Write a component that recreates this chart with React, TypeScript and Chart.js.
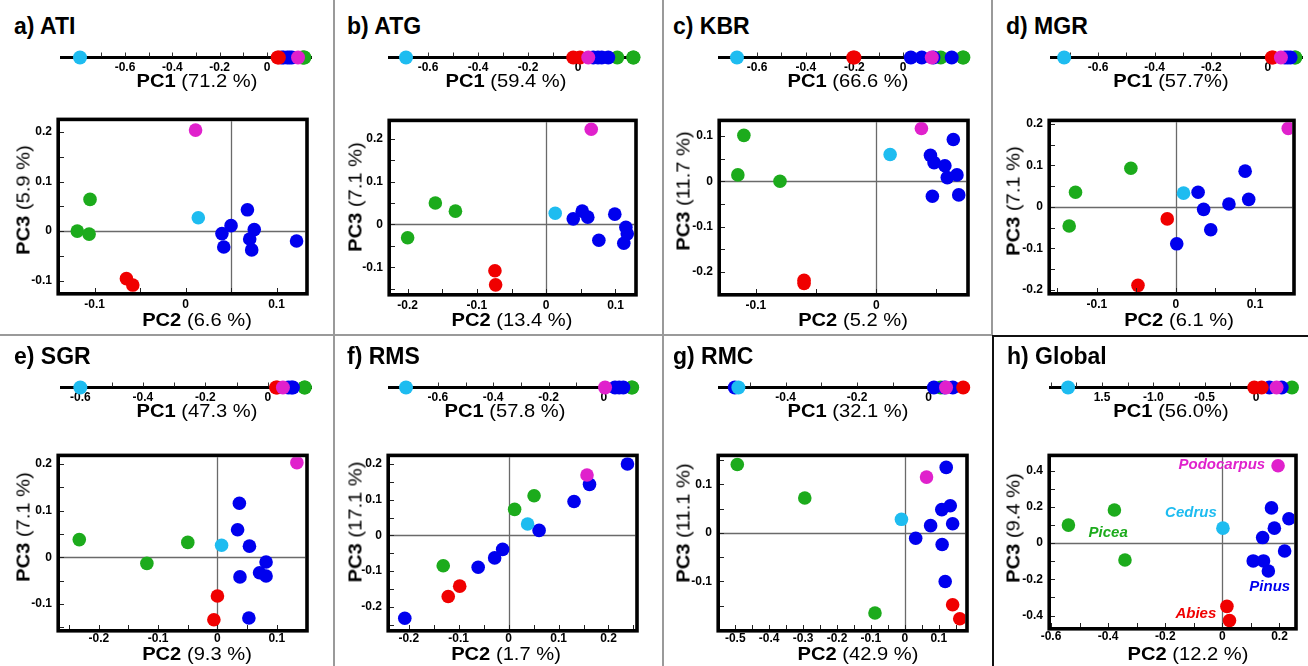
import React, { useEffect, useRef } from "react";
import { Chart, registerables } from "chart.js";

Chart.register(...registerables);

const FONT = '"Liberation Sans", Arial, Helvetica, sans-serif';

// ---------- groups ----------
const GROUP_NAMES = ["Picea", "Pinus", "Abies", "Podocarpus", "Cedrus"];
const GROUP_COLORS = ["#1cab1c", "#0000ee", "#f00000", "#e021cc", "#1ebcf0"];

// ---------- texts ----------
const PANEL_TITLES = ["a) ATI", "b) ATG", "c) KBR", "d) MGR", "e) SGR", "f) RMS", "g) RMC", "h) Global"];
const PC1_PCT = ["(71.2 %)", "(59.4 %)", "(66.6 %)", "(57.7%)", "(47.3 %)", "(57.8 %)", "(32.1 %)", "(56.0%)"];
const PC2_PCT = ["(6.6 %)", "(13.4 %)", "(5.2 %)", "(6.1 %)", "(9.3 %)", "(1.7 %)", "(42.9 %)", "(12.2 %)"];
const PC3_PCT = ["(5.9 %)", "(7.1 %)", "(11.7 %)", "(7.1 %)", "(7.1 %)", "(17.1 %)", "(11.1 %)", "(9.4 %)"];

// ---------- PC1 scores ----------
type P1 = [string, number];
type P23 = [string, number, number];

const ATI_PC1: P1[] = [["Cedrus", -0.79], ["Abies", 0.045], ["Abies", 0.05], ["Pinus", 0.062], ["Pinus", 0.07], ["Pinus", 0.085], ["Pinus", 0.095], ["Pinus", 0.105], ["Podocarpus", 0.131], ["Picea", 0.15], ["Picea", 0.155], ["Picea", 0.158]];
const ATG_PC1: P1[] = [["Cedrus", -0.688], ["Abies", -0.019], ["Abies", 0.008], ["Podocarpus", 0.041], ["Pinus", 0.061], ["Pinus", 0.08], ["Pinus", 0.095], ["Pinus", 0.121], ["Picea", 0.157], ["Picea", 0.221], ["Picea", 0.222]];
const KBR_PC1: P1[] = [["Cedrus", -0.683], ["Abies", -0.205], ["Abies", -0.2], ["Pinus", 0.032], ["Pinus", 0.077], ["Pinus", 0.125], ["Podocarpus", 0.118], ["Picea", 0.155], ["Pinus", 0.2], ["Picea", 0.246], ["Picea", 0.248]];
const MGR_PC1: P1[] = [["Cedrus", -0.72], ["Abies", 0.014], ["Abies", 0.018], ["Podocarpus", 0.046], ["Pinus", 0.06], ["Pinus", 0.07], ["Pinus", 0.08], ["Picea", 0.095], ["Picea", 0.097]];
const SGR_PC1: P1[] = [["Cedrus", -0.6], ["Abies", 0.026], ["Abies", 0.03], ["Podocarpus", 0.048], ["Pinus", 0.065], ["Pinus", 0.075], ["Pinus", 0.08], ["Picea", 0.117], ["Picea", 0.118]];
const RMS_PC1: P1[] = [["Cedrus", -0.715], ["Podocarpus", 0.004], ["Pinus", 0.04], ["Pinus", 0.055], ["Pinus", 0.07], ["Picea", 0.1], ["Picea", 0.102]];
const RMC_PC1: P1[] = [["Pinus", -0.542], ["Cedrus", -0.532], ["Pinus", 0.015], ["Picea", 0.034], ["Pinus", 0.045], ["Podocarpus", 0.049], ["Pinus", 0.068], ["Abies", 0.097]];
const GLOBAL_PC1: P1[] = [["Cedrus", -1.83], ["Abies", -0.017], ["Abies", 0.055], ["Pinus", 0.13], ["Pinus", 0.25], ["Podocarpus", 0.2], ["Picea", 0.35]];

// ---------- PC2 / PC3 scores ----------
const ATI_PC23: P23[] = [
  ["Podocarpus", 0.011, 0.204], ["Picea", -0.105, 0.064], ["Picea", -0.119, 0.0], ["Picea", -0.106, -0.006],
  ["Cedrus", 0.014, 0.027], ["Abies", -0.065, -0.096], ["Abies", -0.058, -0.109],
  ["Pinus", 0.068, 0.043], ["Pinus", 0.05, 0.011], ["Pinus", 0.04, -0.005], ["Pinus", 0.0755, 0.003],
  ["Pinus", 0.042, -0.032], ["Pinus", 0.0705, -0.016], ["Pinus", 0.0727, -0.038], ["Pinus", 0.122, -0.02],
];
const ATG_PC23: P23[] = [
  ["Podocarpus", 0.065, 0.222], ["Picea", -0.16, 0.05], ["Picea", -0.131, 0.031], ["Picea", -0.2, -0.031],
  ["Abies", -0.074, -0.108], ["Abies", -0.073, -0.141], ["Cedrus", 0.013, 0.026],
  ["Pinus", 0.039, 0.013], ["Pinus", 0.052, 0.031], ["Pinus", 0.06, 0.017], ["Pinus", 0.099, 0.024],
  ["Pinus", 0.115, -0.007], ["Pinus", 0.117, -0.022], ["Pinus", 0.112, -0.044], ["Pinus", 0.076, -0.037],
];
const KBR_PC23: P23[] = [
  ["Picea", -0.11, 0.101], ["Picea", -0.115, 0.014], ["Picea", -0.08, 0.0],
  ["Abies", -0.06, -0.218], ["Abies", -0.06, -0.225], ["Cedrus", 0.0115, 0.059], ["Podocarpus", 0.0375, 0.116],
  ["Pinus", 0.064, 0.092], ["Pinus", 0.045, 0.057], ["Pinus", 0.048, 0.041], ["Pinus", 0.057, 0.034],
  ["Pinus", 0.059, 0.008], ["Pinus", 0.067, 0.014], ["Pinus", 0.0466, -0.033], ["Pinus", 0.0685, -0.03],
];
const MGR_PC23: P23[] = [
  ["Podocarpus", 0.142, 0.189], ["Picea", -0.057, 0.093], ["Picea", -0.127, 0.035], ["Picea", -0.135, -0.046],
  ["Cedrus", 0.0096, 0.033], ["Abies", -0.011, -0.029], ["Abies", -0.048, -0.189],
  ["Pinus", 0.001, -0.089], ["Pinus", 0.028, 0.035], ["Pinus", 0.035, -0.006], ["Pinus", 0.044, -0.055],
  ["Pinus", 0.067, 0.007], ["Pinus", 0.0875, 0.086], ["Pinus", 0.092, 0.018],
];
const SGR_PC23: P23[] = [
  ["Podocarpus", 0.134, 0.203], ["Pinus", 0.037, 0.116], ["Pinus", 0.034, 0.059], ["Pinus", 0.054, 0.024],
  ["Pinus", 0.082, -0.01], ["Pinus", 0.071, -0.033], ["Pinus", 0.082, -0.04], ["Pinus", 0.038, -0.042],
  ["Pinus", 0.053, -0.13], ["Cedrus", 0.007, 0.026], ["Picea", -0.233, 0.038], ["Picea", -0.05, 0.032],
  ["Picea", -0.119, -0.013], ["Abies", 0.0, -0.083], ["Abies", -0.006, -0.134],
];
const RMS_PC23: P23[] = [
  ["Pinus", 0.238, 0.2], ["Pinus", 0.162, 0.143], ["Pinus", 0.131, 0.095], ["Pinus", 0.061, 0.014],
  ["Pinus", -0.012, -0.039], ["Pinus", -0.028, -0.063], ["Pinus", -0.061, -0.089], ["Pinus", -0.208, -0.232],
  ["Podocarpus", 0.157, 0.169], ["Picea", 0.051, 0.111], ["Picea", 0.012, 0.073], ["Picea", -0.131, -0.085],
  ["Cedrus", 0.038, 0.032], ["Abies", -0.098, -0.142], ["Abies", -0.121, -0.171],
];
const RMC_PC23: P23[] = [
  ["Picea", -0.494, 0.141], ["Picea", -0.295, 0.072], ["Picea", -0.088, -0.165],
  ["Cedrus", -0.01, 0.028], ["Podocarpus", 0.064, 0.115],
  ["Pinus", 0.122, 0.135], ["Pinus", 0.109, 0.048], ["Pinus", 0.134, 0.056], ["Pinus", 0.076, 0.015],
  ["Pinus", 0.141, 0.019], ["Pinus", 0.032, -0.011], ["Pinus", 0.11, -0.024], ["Pinus", 0.119, -0.1],
  ["Abies", 0.141, -0.148], ["Abies", 0.162, -0.177],
];
const GLOBAL_PC23: P23[] = [
  ["Podocarpus", 0.195, 0.428], ["Picea", -0.539, 0.1], ["Picea", -0.378, 0.183], ["Picea", -0.341, -0.093],
  ["Cedrus", 0.002, 0.083], ["Abies", 0.016, -0.349], ["Abies", 0.025, -0.427],
  ["Pinus", 0.172, 0.195], ["Pinus", 0.233, 0.135], ["Pinus", 0.182, 0.083], ["Pinus", 0.141, 0.031],
  ["Pinus", 0.218, -0.043], ["Pinus", 0.108, -0.098], ["Pinus", 0.144, -0.098], ["Pinus", 0.161, -0.154],
];

// ---------- group labels in the global panel ----------
const GLOBAL_LABEL_NAMES = ["Podocarpus", "Cedrus", "Picea", "Pinus", "Abies"];
const GLOBAL_LABEL_X = [0.15, -0.11, -0.4, 0.166, -0.093];
const GLOBAL_LABEL_Y = [0.435, 0.17, 0.057, -0.24, -0.392];

// ---------- tick values ----------
const STD_PC1_TICKS = [-0.6, -0.4, -0.2, 0];
const RMC_PC1_TICKS = [-0.4, -0.2, 0];
const GLOBAL_PC1_TICKS = [-1.5, -1.0, -0.5, 0];
const GLOBAL_PC1_TICK_LABELS = ["1.5", "-1.0", "-0.5", "0"];

const ATI_X_TICKS = [-0.1, 0, 0.1];
const ATI_Y_TICKS = [-0.1, 0, 0.1, 0.2];
const ATG_X_TICKS = [-0.2, -0.1, 0, 0.1];
const ATG_Y_TICKS = [-0.1, 0, 0.1, 0.2];
const KBR_X_TICKS = [-0.1, 0];
const KBR_Y_TICKS = [-0.2, -0.1, 0, 0.1];
const MGR_X_TICKS = [-0.1, 0, 0.1];
const MGR_Y_TICKS = [-0.2, -0.1, 0, 0.1, 0.2];
const SGR_X_TICKS = [-0.2, -0.1, 0, 0.1];
const SGR_Y_TICKS = [-0.1, 0, 0.1, 0.2];
const RMS_X_TICKS = [-0.2, -0.1, 0, 0.1, 0.2];
const RMS_Y_TICKS = [-0.2, -0.1, 0, 0.1, 0.2];
const RMC_X_TICKS = [-0.5, -0.4, -0.3, -0.2, -0.1, 0, 0.1];
const RMC_Y_TICKS = [-0.1, 0, 0.1];
const GLOBAL_X_TICKS = [-0.6, -0.4, -0.2, 0, 0.2];
const GLOBAL_Y_TICKS = [-0.4, -0.2, 0, 0.2, 0.4];

const fmt = (v: number) => (v === 0 ? "0" : String(v));

// ---------- layout (positions only) ----------
const ROWS = [
  { stripY: 56, pc1Base: 87, titleBase: 35, pc2Base: 326, xTickPad: 5 },
  { stripY: 386, pc1Base: 417, titleBase: 365, pc2Base: 660, xTickPad: 2 },
];

type PanelDef = {
  row: number;
  titleX: number;
  pc1: P1[];
  pc1Ticks: number[];
  pc1TickLabels?: string[];
  strip: { x0: number; x1: number; min: number; max: number; minor: number };
  pc1Cx: number;
  pc23: P23[];
  xTicks: number[];
  yTicks: number[];
  box: { l: number; r: number; t: number; b: number; xmin: number; xmax: number; ymin: number; ymax: number; minor: number };
  cross: [number, number];
  pc2Cx: number;
  pc3Cx: number;
  pc3Cy: number;
  labels?: boolean;
};

const PANELS: PanelDef[] = [
  { row: 0, titleX: 14, pc1: ATI_PC1, pc1Ticks: STD_PC1_TICKS, strip: { x0: 60, x1: 312, min: -0.8745, max: 0.19, minor: 0.1 }, pc1Cx: 197,
    pc23: ATI_PC23, xTicks: ATI_X_TICKS, yTicks: ATI_Y_TICKS,
    box: { l: 60, r: 308, t: 110, b: 292, xmin: -0.138, xmax: 0.1315, ymin: -0.123, ymax: 0.222, minor: 0.05 }, cross: [0.05, 0], pc2Cx: 197, pc3Cx: 23, pc3Cy: 200 },
  { row: 0, titleX: 347, pc1: ATG_PC1, pc1Ticks: STD_PC1_TICKS, strip: { x0: 388, x1: 637, min: -0.76, max: 0.236, minor: 0.1 }, pc1Cx: 506,
    pc23: ATG_PC23, xTicks: ATG_X_TICKS, yTicks: ATG_Y_TICKS,
    box: { l: 391, r: 637, t: 111, b: 293, xmin: -0.224, xmax: 0.127, ymin: -0.16, ymax: 0.2385, minor: 0.05 }, cross: [0, 0], pc2Cx: 512, pc3Cx: 355, pc3Cy: 197 },
  { row: 0, titleX: 673, pc1: KBR_PC1, pc1Ticks: STD_PC1_TICKS, strip: { x0: 718, x1: 968, min: -0.761, max: 0.267, minor: 0.1 }, pc1Cx: 848,
    pc23: KBR_PC23, xTicks: KBR_X_TICKS, yTicks: KBR_Y_TICKS,
    box: { l: 721, r: 969, t: 111, b: 293, xmin: -0.129, xmax: 0.0747, ymin: -0.246, ymax: 0.13, minor: 0.05 }, cross: [0, 0], pc2Cx: 853, pc3Cx: 683, pc3Cy: 191 },
  { row: 0, titleX: 1006, pc1: MGR_PC1, pc1Ticks: STD_PC1_TICKS, strip: { x0: 1050, x1: 1303, min: -0.77, max: 0.124, minor: 0.1 }, pc1Cx: 1171,
    pc23: MGR_PC23, xTicks: MGR_X_TICKS, yTicks: MGR_Y_TICKS,
    box: { l: 1051, r: 1295, t: 111, b: 292, xmin: -0.158, xmax: 0.147, ymin: -0.205, ymax: 0.2038, minor: 0.05 }, cross: [0, 0], pc2Cx: 1179, pc3Cx: 1013, pc3Cy: 201 },
  { row: 1, titleX: 14, pc1: SGR_PC1, pc1Ticks: STD_PC1_TICKS, strip: { x0: 60, x1: 312, min: -0.665, max: 0.141, minor: 0.1 }, pc1Cx: 197,
    pc23: SGR_PC23, xTicks: SGR_X_TICKS, yTicks: SGR_Y_TICKS,
    box: { l: 60, r: 308, t: 446, b: 629, xmin: -0.2655, xmax: 0.148, ymin: -0.1537, ymax: 0.2147, minor: 0.05 }, cross: [0, 0], pc2Cx: 197, pc3Cx: 23, pc3Cy: 527 },
  { row: 1, titleX: 347, pc1: RMS_PC1, pc1Ticks: STD_PC1_TICKS, strip: { x0: 388, x1: 638, min: -0.78, max: 0.123, minor: 0.1 }, pc1Cx: 505,
    pc23: RMS_PC23, xTicks: RMS_X_TICKS, yTicks: RMS_Y_TICKS,
    box: { l: 390, r: 638, t: 446, b: 629, xmin: -0.2376, xmax: 0.2535, ymin: -0.262, ymax: 0.219, minor: 0.05 }, cross: [0, 0], pc2Cx: 506, pc3Cx: 355, pc3Cy: 522 },
  { row: 1, titleX: 673, pc1: RMC_PC1, pc1Ticks: RMC_PC1_TICKS, strip: { x0: 718, x1: 970, min: -0.589, max: 0.116, minor: 0.1 }, pc1Cx: 848,
    pc23: RMC_PC23, xTicks: RMC_X_TICKS, yTicks: RMC_Y_TICKS,
    box: { l: 720, r: 968, t: 446, b: 629, xmin: -0.545, xmax: 0.178, ymin: -0.198, ymax: 0.156, minor: 0.05 }, cross: [0, 0], pc2Cx: 858, pc3Cx: 683, pc3Cy: 523 },
  { row: 1, titleX: 1007, pc1: GLOBAL_PC1, pc1Ticks: GLOBAL_PC1_TICKS, pc1TickLabels: GLOBAL_PC1_TICK_LABELS, strip: { x0: 1049, x1: 1297, min: -2.016, max: 0.399, minor: 0.25 }, pc1Cx: 1171,
    pc23: GLOBAL_PC23, xTicks: GLOBAL_X_TICKS, yTicks: GLOBAL_Y_TICKS,
    box: { l: 1051, r: 1297, t: 446, b: 627, xmin: -0.6, xmax: 0.2515, ymin: -0.463, ymax: 0.475, minor: 0.1 }, cross: [0, 0], pc2Cx: 1188, pc3Cx: 1013, pc3Cy: 528, labels: true },
];

function steps(min: number, max: number, step: number): number[] {
  const out: number[] = [];
  const k0 = Math.ceil(min / step - 1e-9);
  const k1 = Math.floor(max / step + 1e-9);
  for (let k = k0; k <= k1; k++) out.push(k * step);
  return out;
}

const TICK_FONT = { family: FONT, size: 12, weight: "bold" as const };
const DRAW_ORDER = [4, 3, 2, 1, 0]; // first dataset is drawn on top

// ---------- PC1 strip ----------
function Strip({ def }: { def: PanelDef }) {
  const ref = useRef<HTMLCanvasElement>(null);
  const { x0, x1, min, max, minor } = def.strip;
  const y = ROWS[def.row].stripY;
  const W = x1 - x0 + 20;
  const H = 32;
  useEffect(() => {
    const labels = def.pc1TickLabels || def.pc1Ticks.map(fmt);
    const plugin = {
      id: "stripLine",
      beforeDatasetsDraw(chart: any) {
        const { ctx, chartArea: a, scales } = chart;
        const py = scales.y.getPixelForValue(0);
        ctx.save();
        ctx.strokeStyle = "#000";
        ctx.lineWidth = 3;
        ctx.beginPath();
        ctx.moveTo(a.left, py);
        ctx.lineTo(a.right, py);
        ctx.stroke();
        ctx.lineWidth = 1;
        ctx.strokeStyle = "#333";
        ctx.beginPath();
        for (const v of steps(min, max, minor)) {
          const px = Math.round(scales.x.getPixelForValue(v)) + 0.5;
          ctx.moveTo(px, py - 1);
          ctx.lineTo(px, py - 5);
        }
        ctx.stroke();
        ctx.restore();
      },
    };
    const datasets = DRAW_ORDER.map((gi) => ({
      label: GROUP_NAMES[gi],
      data: def.pc1.filter((p) => p[0] === GROUP_NAMES[gi]).map((p) => ({ x: p[1], y: 0 })),
      pointBackgroundColor: GROUP_COLORS[gi],
      pointBorderWidth: 0,
      pointRadius: 7,
      pointHoverRadius: 7,
      clip: false as const,
    }));
    const chart = new Chart(ref.current!, {
      type: "scatter",
      data: { datasets },
      plugins: [plugin],
      options: {
        responsive: false,
        animation: false,
        devicePixelRatio: 1,
        events: [],
        layout: { padding: { left: 10, right: 10, top: 4, bottom: 0 } },
        plugins: { legend: { display: false }, tooltip: { enabled: false } },
        scales: {
          x: {
            type: "linear",
            min,
            max,
            afterBuildTicks: (s: any) => {
              s.ticks = def.pc1Ticks.map((v) => ({ value: v }));
            },
            afterFit: (s: any) => {
              s.height = 16;
            },
            grid: { display: false, drawTicks: false },
            border: { display: false },
            ticks: {
              autoSkip: false,
              maxRotation: 0,
              padding: -2,
              color: "#000",
              font: TICK_FONT,
              callback: (_v: any, i: number) => labels[i],
            },
          },
          y: { type: "linear", display: false, min: -1, max: 1 },
        },
      } as any,
    });
    return () => chart.destroy();
  }, []);
  return (
    <canvas
      ref={ref}
      width={W}
      height={H}
      style={{ position: "absolute", left: x0 - 10, top: y - 10, width: W, height: H, display: "block" }}
    />
  );
}

// ---------- PC2 / PC3 scatter ----------
function Scatter({ def }: { def: PanelDef }) {
  const ref = useRef<HTMLCanvasElement>(null);
  const { l, r, t, b, xmin, xmax, ymin, ymax, minor } = def.box;
  const YW = 45;
  const XH = 26;
  const W = r - l + YW + 4;
  const H = b - t + 4 + XH;
  useEffect(() => {
    const plugin = {
      id: "box",
      beforeDatasetsDraw(chart: any) {
        const { ctx, chartArea: a, scales } = chart;
        const cx = Math.round(scales.x.getPixelForValue(def.cross[0])) + 0.5;
        const cy = Math.round(scales.y.getPixelForValue(def.cross[1])) + 0.5;
        ctx.save();
        ctx.strokeStyle = "#6a6a6a";
        ctx.lineWidth = 1.3;
        ctx.beginPath();
        ctx.moveTo(cx, a.top);
        ctx.lineTo(cx, a.bottom);
        ctx.moveTo(a.left, cy);
        ctx.lineTo(a.right, cy);
        ctx.stroke();
        ctx.restore();
      },
      afterDatasetsDraw(chart: any) {
        const { ctx, chartArea: a, scales } = chart;
        ctx.save();
        if (def.labels) {
          ctx.font = `italic bold 15px ${FONT}`;
          ctx.textBaseline = "middle";
          GLOBAL_LABEL_NAMES.forEach((name, i) => {
            const gi = GROUP_NAMES.indexOf(name);
            ctx.fillStyle = GROUP_COLORS[gi];
            ctx.textAlign = name === "Podocarpus" ? "right" : "center";
            ctx.fillText(name, scales.x.getPixelForValue(GLOBAL_LABEL_X[i]), scales.y.getPixelForValue(GLOBAL_LABEL_Y[i]));
          });
        }
        // inward ticks
        ctx.strokeStyle = "#222";
        ctx.lineWidth = 1;
        ctx.beginPath();
        for (const v of steps(ymin, ymax, minor)) {
          const py = Math.round(scales.y.getPixelForValue(v)) + 0.5;
          ctx.moveTo(a.left, py);
          ctx.lineTo(a.left + 4, py);
        }
        for (const v of steps(xmin, xmax, minor)) {
          const px = Math.round(scales.x.getPixelForValue(v)) + 0.5;
          ctx.moveTo(px, a.bottom);
          ctx.lineTo(px, a.bottom - 4);
        }
        ctx.stroke();
        // frame
        ctx.strokeStyle = "#000";
        ctx.lineWidth = 3.6;
        ctx.strokeRect(a.left - 1.8, a.top - 1.8, a.right - a.left + 3.6, a.bottom - a.top + 3.6);
        ctx.restore();
      },
    };
    const datasets = DRAW_ORDER.map((gi) => ({
      label: GROUP_NAMES[gi],
      data: def.pc23.filter((p) => p[0] === GROUP_NAMES[gi]).map((p) => ({ x: p[1], y: p[2] })),
      pointBackgroundColor: GROUP_COLORS[gi],
      pointBorderWidth: 0,
      pointRadius: 6.8,
      pointHoverRadius: 6.8,
      clip: 0,
    }));
    const axis = (vals: number[], which: "x" | "y") => ({
      type: "linear",
      min: which === "x" ? xmin : ymin,
      max: which === "x" ? xmax : ymax,
      afterBuildTicks: (s: any) => {
        s.ticks = vals.map((v) => ({ value: v }));
      },
      afterFit: (s: any) => {
        if (which === "x") s.height = XH;
        else s.width = YW;
      },
      grid: { display: false, drawTicks: false },
      border: { display: false },
      ticks: {
        autoSkip: false,
        maxRotation: 0,
        padding: which === "x" ? ROWS[def.row].xTickPad : 8,
        color: "#000",
        font: TICK_FONT,
        callback: (_v: any, i: number) => fmt(vals[i]),
      },
    });
    const chart = new Chart(ref.current!, {
      type: "scatter",
      data: { datasets },
      plugins: [plugin],
      options: {
        responsive: false,
        animation: false,
        devicePixelRatio: 1,
        events: [],
        layout: { padding: { left: 0, right: 4, top: 4, bottom: 0 } },
        plugins: { legend: { display: false }, tooltip: { enabled: false } },
        scales: { x: axis(def.xTicks, "x"), y: axis(def.yTicks, "y") },
      } as any,
    });
    return () => chart.destroy();
  }, []);
  return (
    <canvas
      ref={ref}
      width={W}
      height={H}
      style={{ position: "absolute", left: l - YW, top: t - 4, width: W, height: H, display: "block" }}
    />
  );
}

// ---------- text helpers ----------
const LABEL_SIZE = 19;
const LABEL_STRETCH = 1.06;

function TitleText({ x, base, children }: { x: number; base: number; children: React.ReactNode }) {
  const size = 23;
  return (
    <div
      style={{
        position: "absolute",
        left: x,
        top: base - 0.85 * size,
        fontSize: size,
        lineHeight: `${size}px`,
        fontFamily: FONT,
        fontWeight: 700,
        whiteSpace: "nowrap",
        color: "#000",
      }}
    >
      {children}
    </div>
  );
}

function AxisLabel({ pc, pct }: { pc: string; pct: string }) {
  return (
    <>
      <span style={{ fontWeight: 700 }}>{pc}</span> {pct}
    </>
  );
}

function CenteredLabel({ cx, base, children }: { cx: number; base: number; children: React.ReactNode }) {
  return (
    <div
      style={{
        position: "absolute",
        left: cx,
        top: base - 0.85 * LABEL_SIZE,
        fontSize: LABEL_SIZE,
        lineHeight: `${LABEL_SIZE}px`,
        fontFamily: FONT,
        whiteSpace: "nowrap",
        color: "#000",
        transform: `translateX(-50%) scaleX(${LABEL_STRETCH})`,
      }}
    >
      {children}
    </div>
  );
}

function Panel({ def, i }: { def: PanelDef; i: number }) {
  const row = ROWS[def.row];
  return (
    <>
      <TitleText x={def.titleX} base={row.titleBase}>
        {PANEL_TITLES[i]}
      </TitleText>
      <Strip def={def} />
      <CenteredLabel cx={def.pc1Cx} base={row.pc1Base}>
        <AxisLabel pc="PC1" pct={PC1_PCT[i]} />
      </CenteredLabel>
      <Scatter def={def} />
      <CenteredLabel cx={def.pc2Cx} base={row.pc2Base}>
        <AxisLabel pc="PC2" pct={PC2_PCT[i]} />
      </CenteredLabel>
      <div
        style={{
          position: "absolute",
          left: def.pc3Cx,
          top: def.pc3Cy,
          transform: `translate(-50%, -50%) rotate(-90deg) scaleX(${LABEL_STRETCH})`,
          fontSize: LABEL_SIZE,
          lineHeight: `${LABEL_SIZE}px`,
          fontFamily: FONT,
          whiteSpace: "nowrap",
          color: "#000",
        }}
      >
        <AxisLabel pc="PC3" pct={PC3_PCT[i]} />
      </div>
    </>
  );
}

function Line({ x, y, w, h, c }: { x: number; y: number; w: number; h: number; c: string }) {
  return <div style={{ position: "absolute", left: x, top: y, width: w, height: h, background: c }} />;
}

export default function App() {
  return (
    <div
      style={{
        position: "absolute",
        left: 0,
        top: 0,
        width: 1308,
        height: 666,
        background: "#fff",
        overflow: "hidden",
        fontFamily: FONT,
      }}
    >
      <Line x={333} y={0} w={2} h={666} c="#9a9a9a" />
      <Line x={662} y={0} w={2} h={666} c="#9a9a9a" />
      <Line x={991} y={0} w={2} h={335} c="#9a9a9a" />
      <Line x={0} y={334} w={992} h={2} c="#9a9a9a" />
      <Line x={992} y={335} w={2} h={331} c="#111" />
      <Line x={992} y={335} w={316} h={2} c="#111" />
      {PANELS.map((p, i) => (
        <Panel key={i} def={p} i={i} />
      ))}
    </div>
  );
}
